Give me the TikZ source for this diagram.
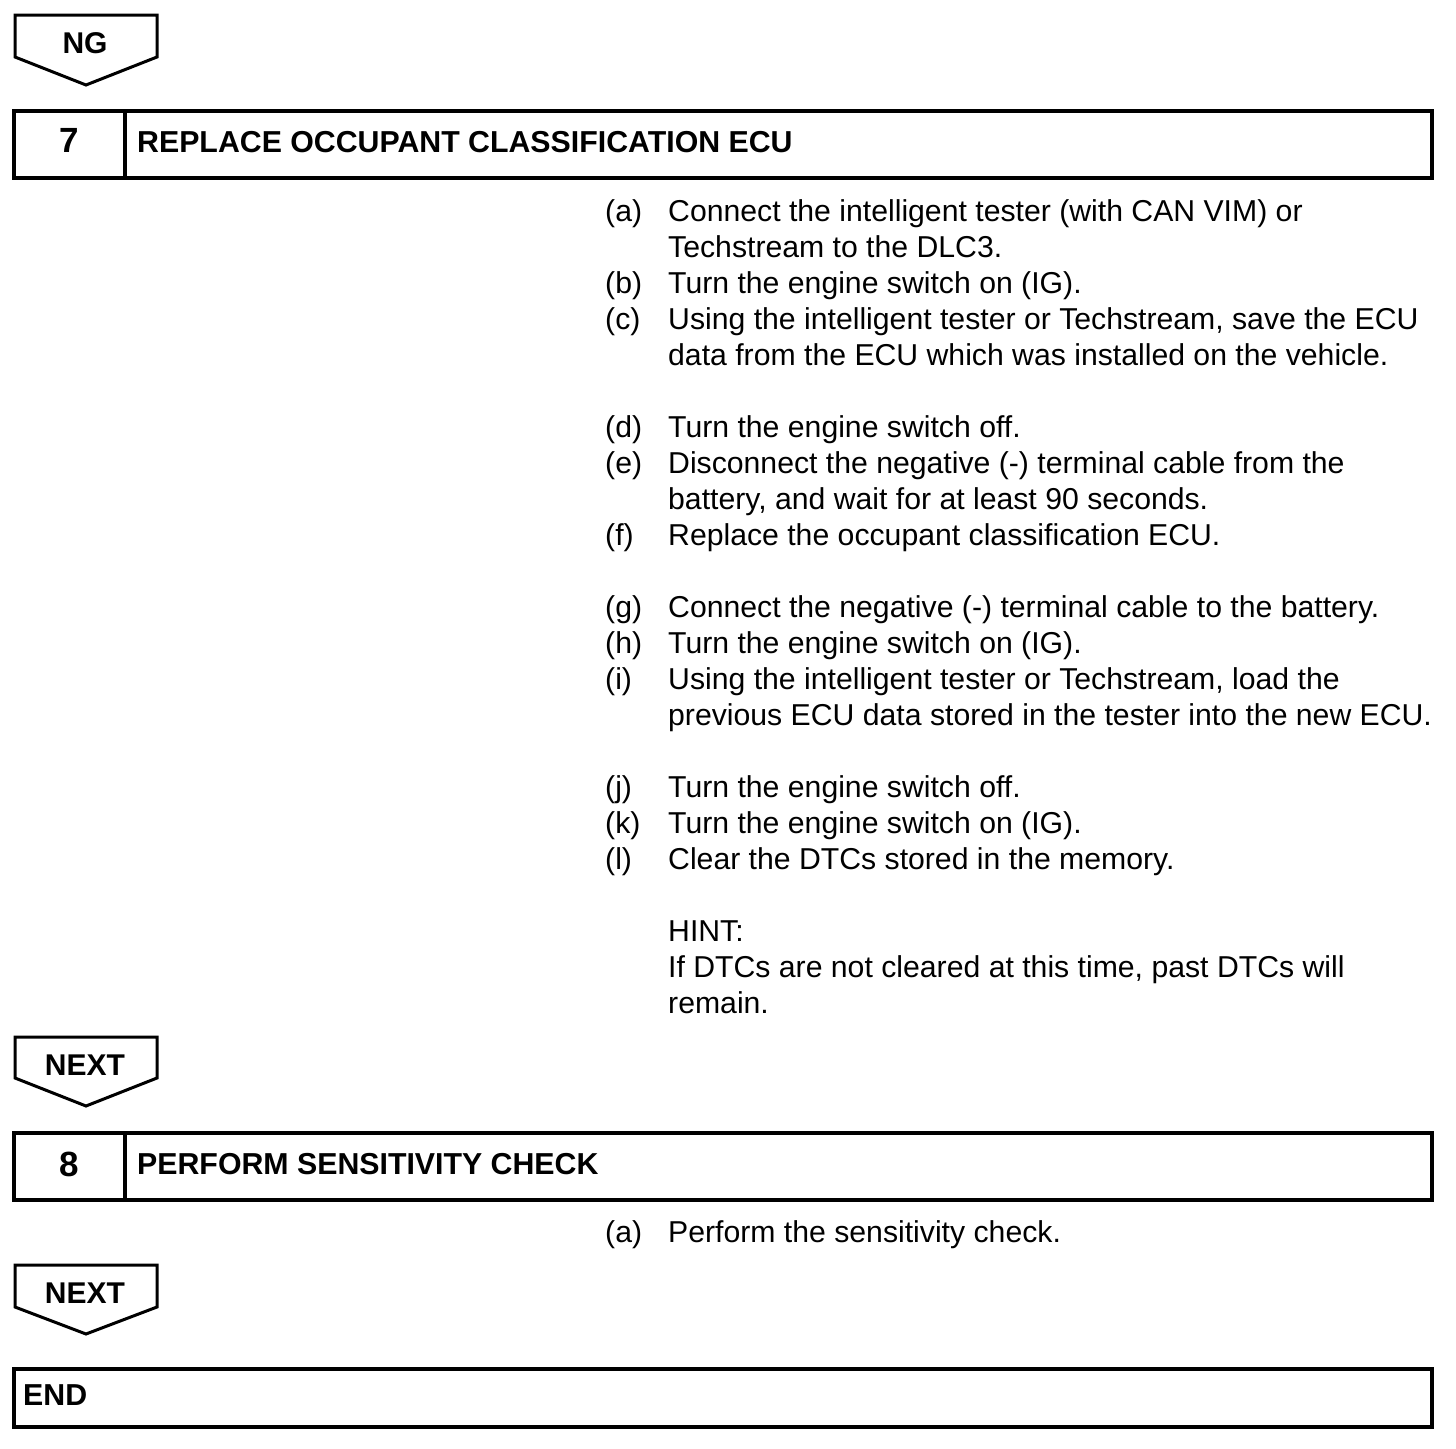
\documentclass[tikz,border=0pt]{standalone}
\usepackage{fontspec}
\setmainfont{Liberation Sans}
\begin{document}
\begin{tikzpicture}[x=1pt,y=-1pt,
  frame/.style={line width=3.5pt},
  arrowshape/.style={line width=3pt, line join=miter},
  hdr/.style={anchor=base west, inner sep=0pt, font=\bfseries\fontsize{30.3}{36}\selectfont},
  num/.style={anchor=base, inner sep=0pt, font=\bfseries\fontsize{35}{40}\selectfont},
  arrtxt/.style={anchor=base, inner sep=0pt, font=\bfseries\fontsize{30}{36}\selectfont},
  lbl/.style={anchor=base west, inner sep=0pt, font=\fontsize{30.2}{36}\selectfont},
  txt/.style={anchor=base west, inner sep=0pt, font=\fontsize{30.2}{36}\selectfont}]
\useasboundingbox (0,0) rectangle (1456,1448);
% NG arrow
\draw[arrowshape] (15,15) -- (157,15) -- (157,57) -- (86,85) -- (15,57) -- cycle;
\node[arrtxt] (ng) at (85,53) {NG};
% Box 7
\draw[frame] (14,111) rectangle (1432,178);
\draw[frame] (125,111) -- (125,178);
\node[num] (n7) at (69,152) {7};
\node[hdr] (h7) at (137,152) {REPLACE OCCUPANT CLASSIFICATION ECU};
% Steps
\foreach \y/\l/\t in {
 221/(a)/Connect the intelligent tester (with CAN VIM) or,
 293/(b)/Turn the engine switch on (IG).,
 329/(c)/{Using the intelligent tester or Techstream, save the ECU},
 437/(d)/Turn the engine switch off.,
 473/(e)/Disconnect the negative (-) terminal cable from the,
 545/(f)/Replace the occupant classification ECU.,
 617/(g)/Connect the negative (-) terminal cable to the battery.,
 653/(h)/Turn the engine switch on (IG).,
 689/(i)/{Using the intelligent tester or Techstream, load the},
 797/(j)/Turn the engine switch off.,
 833/(k)/Turn the engine switch on (IG).,
 869/(l)/Clear the DTCs stored in the memory.}
 {\node[lbl] (l\y) at (605,\y) {\l};
  \node[txt] (t\y) at (668,\y) {\t};}
\foreach \y/\t in {
 257/Techstream to the DLC3.,
 365/data from the ECU which was installed on the vehicle.,
 509/{battery, and wait for at least 90 seconds.},
 725/previous ECU data stored in the tester into the new ECU.,
 941/HINT:,
 977/{If DTCs are not cleared at this time, past DTCs will},
 1013/remain.}
 {\node[txt] (c\y) at (668,\y) {\t};}
% NEXT arrow 1
\draw[arrowshape] (15,1037) -- (157,1037) -- (157,1078) -- (86,1106) -- (15,1078) -- cycle;
\node[arrtxt] (next1) at (85,1075) {NEXT};
% Box 8
\draw[frame] (14,1133) rectangle (1432,1200);
\draw[frame] (125,1133) -- (125,1200);
\node[num] (n8) at (69,1176) {8};
\node[hdr] (h8) at (137,1174) {PERFORM SENSITIVITY CHECK};
\node[lbl] (l8a) at (605,1242) {(a)};
\node[txt] (t8a) at (668,1242) {Perform the sensitivity check.};
% NEXT arrow 2
\draw[arrowshape] (15,1265) -- (157,1265) -- (157,1307) -- (86,1334) -- (15,1307) -- cycle;
\node[arrtxt] (next2) at (85,1303) {NEXT};
% END box
\draw[frame] (14,1369) rectangle (1432,1427);
\node[hdr] (endn) at (23,1405) {END};
\end{tikzpicture}
\end{document}
